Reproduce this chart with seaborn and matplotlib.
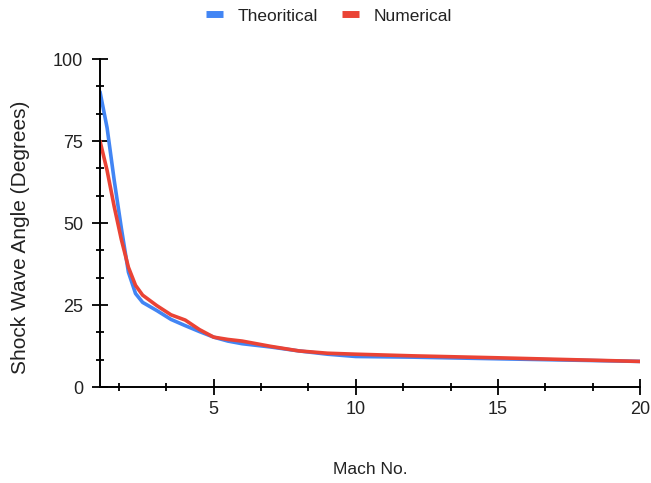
import numpy as np
import pandas as pd
import matplotlib
matplotlib.use("Agg")
import matplotlib.pyplot as plt
from matplotlib.ticker import MultipleLocator
from matplotlib.lines import Line2D
import seaborn as sns

mach = [1, 1.25, 1.5, 1.75, 2, 2.25, 2.5, 3, 3.5, 4, 4.5, 5, 5.5, 6, 7, 8, 9, 10, 12, 15, 20]
theoretical = [90, 79, 63, 48.5, 35, 28.5, 25.8, 23.3, 20.6, 18.7, 16.9, 15.2, 14.0, 13.2, 12.2, 11.0, 10.0, 9.3, 9.1, 8.6, 7.8]
numerical = [75, 66, 55, 45, 36.5, 31, 28, 24.8, 22, 20.4, 17.5, 15.2, 14.5, 14.0, 12.4, 11.0, 10.3, 10.0, 9.5, 8.9, 7.8]
series_names = ["Theoritical", "Numerical"]
colors = ["#4285F4", "#EA4335"]

df = pd.DataFrame({
    "Mach": mach * 2,
    "Angle": theoretical + numerical,
    "Series": [series_names[0]] * len(mach) + [series_names[1]] * len(mach),
})

sns.set_style("white")
plt.rcParams["font.family"] = ["Liberation Sans", "DejaVu Sans"]

fig = plt.figure(figsize=(6.51, 4.83), dpi=100)
ax = fig.add_axes([100 / 651, 96 / 483, 540 / 651, 328 / 483])

sns.lineplot(data=df, x="Mach", y="Angle", hue="Series", palette=colors,
             linewidth=2.6, ax=ax, legend=False, sort=True)
for ln in ax.lines:
    ln.set_solid_joinstyle("round")
    ln.set_solid_capstyle("round")

ax.set_xlim(1, 20)
ax.set_ylim(0, 100)
ax.xaxis.set_major_locator(MultipleLocator(5))
ax.xaxis.set_minor_locator(MultipleLocator(5 / 3))
ax.yaxis.set_major_locator(MultipleLocator(25))
ax.yaxis.set_minor_locator(MultipleLocator(25 / 3))

for s in ["top", "right"]:
    ax.spines[s].set_visible(False)
for s in ["left", "bottom"]:
    ax.spines[s].set_color("black")
    ax.spines[s].set_linewidth(1.4)

ax.tick_params(axis="both", which="both", bottom=True, left=True, top=False, right=False)
ax.tick_params(axis="both", which="major", direction="inout", length=12, width=1.3,
               color="black", labelsize=13, labelcolor="#222222")
ax.tick_params(axis="both", which="minor", direction="inout", length=6, width=1.3, color="black")
ax.tick_params(axis="y", which="major", pad=6)
ax.tick_params(axis="x", which="major", pad=4)

ax.set_xlabel("Mach No.", fontsize=12.5, color="#222222", labelpad=32)
ax.set_ylabel("Shock Wave Angle (Degrees)", fontsize=15, color="#222222")
ax.yaxis.set_label_coords(-0.13, 0.457)

handles = [Line2D([0], [0], color=c, linewidth=5, solid_capstyle="butt") for c in colors]
fig.legend(handles, series_names, loc="center", bbox_to_anchor=(0.505, 1 - 16 / 483),
           ncol=2, frameon=False, fontsize=12.5, handlelength=1.0, columnspacing=1.4,
           handletextpad=0.8, labelcolor="#222222")

fig.savefig("out.png", dpi=100, facecolor="white")
